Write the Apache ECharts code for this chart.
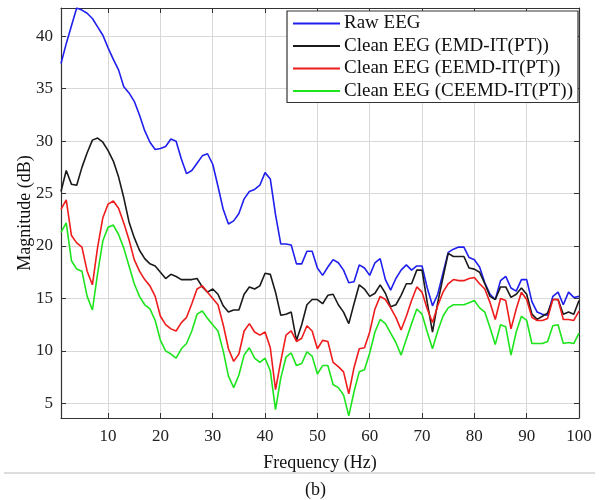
<!DOCTYPE html>
<html>
<head>
<meta charset="utf-8">
<script src="https://cdn.jsdelivr.net/npm/echarts@6/dist/echarts.min.js"></script>
<style>
html, body { margin: 0; padding: 0; background: #fff; }
#main { width: 599px; height: 500px; }
</style>
</head>
<body>
<div id="main"></div>
<script>
// frequency bins 1..100 Hz
const freq = [];
for (let i = 1; i <= 100; i++) freq.push(i);

const rawEEG = [
  37.4, 39.3, 41.0, 42.7, 42.5, 42.2, 41.7, 40.9, 40.1, 38.9,
  37.8, 36.8, 35.2, 34.6, 33.8, 32.5, 31.0, 29.9, 29.2, 29.3,
  29.5, 30.2, 30.0, 28.3, 26.9, 27.2, 27.9, 28.6, 28.8, 27.8,
  25.7, 23.5, 22.1, 22.4, 23.1, 24.5, 25.2, 25.4, 25.8, 27.0,
  26.4, 23.0, 20.2, 20.2, 20.1, 18.3, 18.3, 19.5, 19.5, 17.9,
  17.2, 18.0, 18.7, 18.4, 17.7, 16.5, 16.6, 18.2, 17.9, 17.2,
  18.4, 18.8, 16.8, 15.8, 16.9, 17.7, 18.2, 17.7, 18.1, 18.1,
  16.0, 14.3, 15.4, 17.4, 19.4, 19.7, 19.9, 19.9, 18.9, 18.7,
  18.0, 16.5, 15.4, 14.9, 16.7, 17.1, 16.0, 15.7, 16.8, 16.8,
  14.7, 13.7, 13.5, 13.4, 15.2, 15.6, 14.4, 15.6, 15.1, 15.2
];
const emd = [
  25.2, 27.2, 25.9, 25.8, 27.5, 28.9, 30.1, 30.3, 29.9, 29.1,
  28.1, 26.6, 24.6, 22.3, 20.8, 19.6, 18.8, 18.3, 18.1, 17.5,
  16.9, 17.3, 17.1, 16.8, 16.8, 16.8, 16.9, 16.1, 15.6, 15.9,
  15.4, 14.3, 13.7, 13.9, 13.9, 15.4, 16.1, 15.9, 16.2, 17.4,
  17.3, 15.6, 13.4, 13.5, 13.7, 11.0, 12.5, 14.4, 14.9, 14.9,
  14.5, 15.3, 15.4, 14.4, 13.7, 12.6, 14.5, 16.3, 15.9, 15.2,
  15.5, 16.3, 15.5, 14.2, 14.4, 15.3, 16.4, 16.4, 17.7, 17.7,
  14.6, 11.8, 14.6, 17.0, 19.3, 19.0, 19.0, 19.0, 17.9, 17.8,
  17.5, 16.4, 15.2, 14.9, 16.1, 16.1, 15.1, 15.4, 16.0, 15.4,
  13.5, 13.0, 13.3, 13.6, 14.9, 14.9, 13.5, 13.7, 13.5, 14.8
];
const eemd = [
  23.5, 24.4, 21.0, 20.3, 19.9, 17.6, 16.3, 19.9, 22.7, 24.0,
  24.3, 23.6, 22.2, 20.6, 18.7, 17.6, 16.8, 16.2, 15.2, 13.3,
  12.5, 12.1, 11.9, 12.7, 13.2, 14.5, 15.9, 16.2, 15.6, 15.0,
  14.4, 12.5, 10.2, 9.0, 9.7, 11.9, 12.6, 11.8, 11.5, 11.8,
  10.3, 6.3, 9.0, 11.5, 11.9, 10.9, 11.2, 12.4, 11.9, 10.2,
  11.0, 10.9, 8.9, 8.5, 8.0, 5.9, 8.4, 10.2, 10.3, 11.8,
  14.0, 15.2, 14.9, 14.1, 13.2, 12.0, 13.3, 14.8, 16.1, 15.6,
  14.0, 12.7, 14.3, 15.6, 16.4, 16.8, 16.7, 16.7, 16.9, 17.0,
  16.4, 15.9, 14.6, 13.0, 15.0, 14.8, 12.1, 14.0, 15.6, 14.9,
  13.2, 12.9, 12.9, 13.1, 14.9, 14.9, 13.0, 13.0, 12.9, 13.8
];
const ceemd = [
  21.3, 22.2, 18.6, 17.8, 17.6, 15.2, 13.9, 17.4, 20.5, 21.8,
  22.0, 21.1, 19.8, 18.1, 16.4, 15.2, 14.4, 14.0, 12.9, 11.0,
  10.0, 9.7, 9.3, 10.2, 10.7, 11.9, 13.5, 13.8, 13.1, 12.5,
  11.9, 10.0, 7.6, 6.5, 7.7, 9.6, 10.3, 9.3, 8.9, 9.3,
  8.1, 4.4, 7.4, 9.4, 9.8, 8.6, 8.8, 9.9, 9.5, 7.8,
  8.6, 8.6, 6.8, 6.5, 5.8, 3.8, 6.1, 8.0, 8.2, 9.8,
  11.8, 13.0, 12.6, 11.7, 10.8, 9.6, 11.1, 12.6, 14.0, 13.5,
  11.8, 10.2, 11.9, 13.3, 14.1, 14.4, 14.4, 14.4, 14.6, 14.8,
  14.1, 13.7, 12.2, 10.6, 12.5, 12.3, 9.6, 11.8, 13.3, 12.9,
  10.7, 10.7, 10.7, 10.9, 12.4, 12.5, 10.7, 10.8, 10.7, 11.7
];

const xTicks = [10, 20, 30, 40, 50, 60, 70, 80, 90, 100];
const yTicks = [5, 10, 15, 20, 25, 30, 35, 40];
const seriesNames = ["Raw EEG", "Clean EEG (EMD-IT(PT))", "Clean EEG (EEMD-IT(PT))", "Clean EEG (CEEMD-IT(PT))"];
const seriesColors = ["#1f1fee", "#1a1a1a", "#ee1c1c", "#1ee41e"];

const serif = "Liberation Serif";
const myChart = echarts.init(document.getElementById("main"));

function line(name, values, color) {
    return {
        name: name,
        type: "line",
        data: freq.map((f, i) => [f, values[i]]),
        showSymbol: false,
        lineStyle: { color: color, width: 1.6 },
        itemStyle: { color: color },
        z: 3,
    };
}

const xBase = {
    type: "value",
    min: 1,
    max: 100,
    axisLine: { show: true, onZero: false, lineStyle: { color: "#333", width: 1.2 } },
    axisTick: { inside: true, length: 5, customValues: xTicks, lineStyle: { color: "#333" } },
    splitLine: { show: false },
};
const yBase = {
    type: "value",
    min: 3.6,
    max: 42.7,
    axisLine: { show: true, onZero: false, lineStyle: { color: "#333", width: 1.2 } },
    axisTick: { inside: true, length: 5, customValues: yTicks, lineStyle: { color: "#333" } },
    splitLine: { show: false },
};

let option = {
    animation: false,
    title: {
        text: "(b)",
        left: 300,
        top: 476,
        textStyle: { fontFamily: serif, fontSize: 18, fontWeight: "normal", color: "#111" },
    },
    graphic: [{
        type: "line",
        shape: { x1: 4, y1: 473, x2: 595, y2: 473 },
        style: { stroke: "#bbb", lineWidth: 1 },
    }],
    legend: {
        data: seriesNames,
        orient: "vertical",
        right: 21,
        top: 11,
        padding: [3, 5, 2, 6],
        itemGap: 3.5,
        itemWidth: 47,
        itemHeight: 2,
        icon: "rect",
        backgroundColor: "#fff",
        borderColor: "#333",
        borderWidth: 1.2,
        borderRadius: 0,
        textStyle: { fontFamily: serif, fontSize: 19, color: "#111", padding: [0, 0, 0, -1] },
    },
    grid: { left: 61, right: 20, top: 8, bottom: 82 },
    xAxis: [
        Object.assign({}, xBase, {
            position: "bottom",
            name: "Frequency (Hz)",
            nameLocation: "middle",
            nameGap: 36,
            nameMoveOverlap: false,
            nameTextStyle: { fontFamily: serif, fontSize: 18, color: "#111" },
            axisLabel: { customValues: xTicks, fontFamily: serif, fontSize: 17, color: "#222", margin: 10 },
            splitLine: { show: true, lineStyle: { color: "#d8d8d8", width: 1 } },
        }),
        Object.assign({}, xBase, { position: "top", axisLabel: { show: false } }),
    ],
    yAxis: [
        Object.assign({}, yBase, {
            position: "left",
            name: "Magnitude (dB)",
            nameLocation: "middle",
            nameGap: 27,
            nameMoveOverlap: false,
            nameTextStyle: { fontFamily: serif, fontSize: 18, color: "#111" },
            axisLabel: { customValues: yTicks, fontFamily: serif, fontSize: 17, color: "#222", margin: 8 },
            splitLine: { show: true, lineStyle: { color: "#d8d8d8", width: 1 } },
        }),
        Object.assign({}, yBase, { position: "right", axisLabel: { show: false } }),
    ],
    series: [
        line(seriesNames[0], rawEEG, seriesColors[0]),
        line(seriesNames[1], emd, seriesColors[1]),
        line(seriesNames[2], eemd, seriesColors[2]),
        line(seriesNames[3], ceemd, seriesColors[3]),
    ],
};
myChart.setOption(option);
</script>
</body>
</html>
